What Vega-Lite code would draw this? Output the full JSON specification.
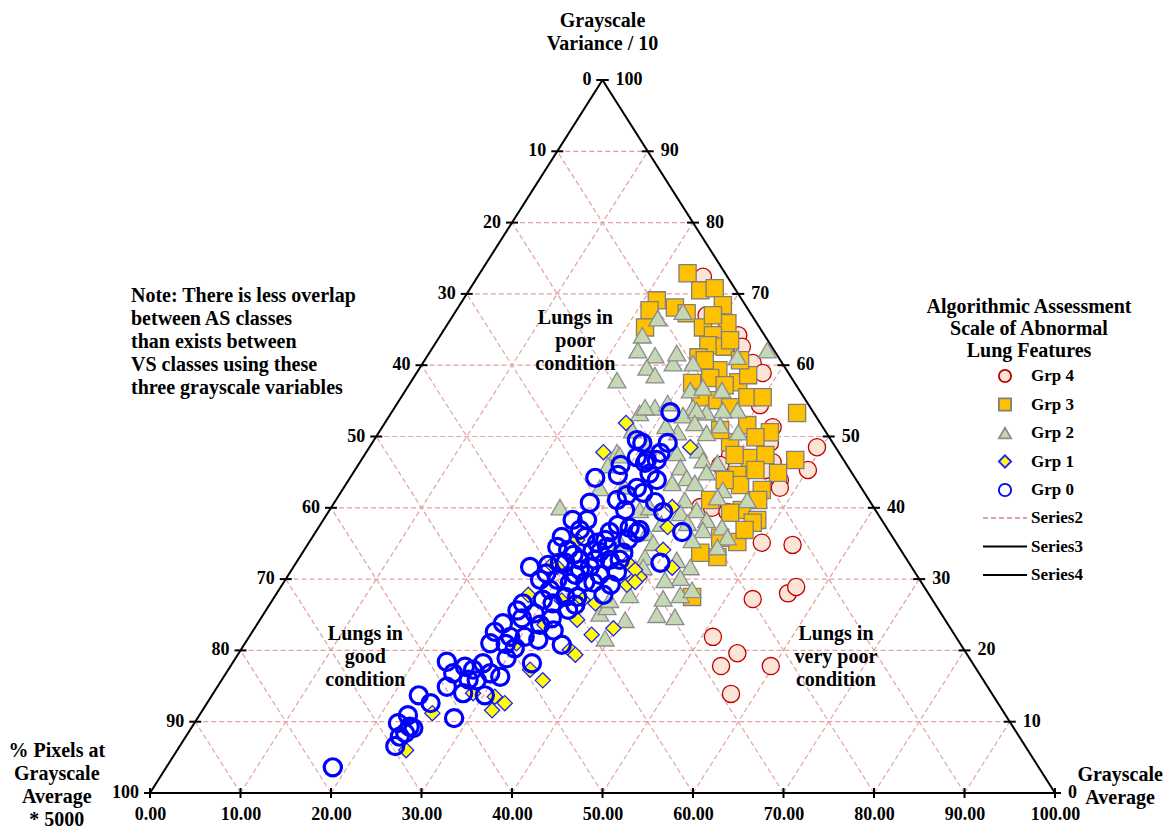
{
"$schema":"https://vega.github.io/schema/vega-lite/v6.json",
"autosize":{"type":"none"},
"padding":{"left":150,"top":80,"right":109,"bottom":36},
"width":905,"height":713,
"background":"white",
"config":{"view":{"stroke":null},"font":"Liberation Serif",
 "legend":{"orient":"none","direction":"vertical","columns":1,
    "titleFont":"Liberation Serif","titleFontSize":20,"titleFontWeight":"bold","titleColor":"black","titleLineHeight":22,"titleAlign":"center","titleAnchor":"middle","titlePadding":4,"titleLimit":400,
    "labelFont":"Liberation Serif","labelFontSize":17,"labelFontWeight":"bold","labelColor":"black","labelLimit":200,
    "clipHeight":22,"rowPadding":6.5}},
"datasets":{
"lines":[
{"x":5,"y":10,"x2":95,"y2":10,"s":"Series2"},{"x":10,"y":20,"x2":90,"y2":20,"s":"Series2"},{"x":15,"y":30,"x2":85,"y2":30,"s":"Series2"},{"x":20,"y":40,"x2":80,"y2":40,"s":"Series2"},{"x":25,"y":50,"x2":75,"y2":50,"s":"Series2"},{"x":30,"y":60,"x2":70,"y2":60,"s":"Series2"},{"x":35,"y":70,"x2":65,"y2":70,"s":"Series2"},{"x":40,"y":80,"x2":60,"y2":80,"s":"Series2"},{"x":45,"y":90,"x2":55,"y2":90,"s":"Series2"},
{"x":10,"y":0,"x2":55,"y2":90,"s":"Series2"},{"x":20,"y":0,"x2":60,"y2":80,"s":"Series2"},{"x":30,"y":0,"x2":65,"y2":70,"s":"Series2"},{"x":40,"y":0,"x2":70,"y2":60,"s":"Series2"},{"x":50,"y":0,"x2":75,"y2":50,"s":"Series2"},{"x":60,"y":0,"x2":80,"y2":40,"s":"Series2"},{"x":70,"y":0,"x2":85,"y2":30,"s":"Series2"},{"x":80,"y":0,"x2":90,"y2":20,"s":"Series2"},{"x":90,"y":0,"x2":95,"y2":10,"s":"Series2"},
{"x":10,"y":0,"x2":5,"y2":10,"s":"Series2"},{"x":20,"y":0,"x2":10,"y2":20,"s":"Series2"},{"x":30,"y":0,"x2":15,"y2":30,"s":"Series2"},{"x":40,"y":0,"x2":20,"y2":40,"s":"Series2"},{"x":50,"y":0,"x2":25,"y2":50,"s":"Series2"},{"x":60,"y":0,"x2":30,"y2":60,"s":"Series2"},{"x":70,"y":0,"x2":35,"y2":70,"s":"Series2"},{"x":80,"y":0,"x2":40,"y2":80,"s":"Series2"},{"x":90,"y":0,"x2":45,"y2":90,"s":"Series2"},
{"x":0,"y":0,"x2":50,"y2":100,"s":"Series3"},{"x":0,"y":0,"x2":100,"y2":0,"s":"Series3"},{"x":50,"y":100,"x2":100,"y2":0,"s":"Series4"}
],
"leftLab":[{"x":50,"y":100,"t":"0"},{"x":45,"y":90,"t":"10"},{"x":40,"y":80,"t":"20"},{"x":35,"y":70,"t":"30"},{"x":30,"y":60,"t":"40"},{"x":25,"y":50,"t":"50"},{"x":20,"y":40,"t":"60"},{"x":15,"y":30,"t":"70"},{"x":10,"y":20,"t":"80"},{"x":5,"y":10,"t":"90"},{"x":0,"y":0,"t":"100"}],
"rightLab":[{"x":50,"y":100,"t":"100"},{"x":55,"y":90,"t":"90"},{"x":60,"y":80,"t":"80"},{"x":65,"y":70,"t":"70"},{"x":70,"y":60,"t":"60"},{"x":75,"y":50,"t":"50"},{"x":80,"y":40,"t":"40"},{"x":85,"y":30,"t":"30"},{"x":90,"y":20,"t":"20"},{"x":95,"y":10,"t":"10"},{"x":100,"y":0,"t":"0"}],
"bottomTicks":[{"x":0,"y":0},{"x":10,"y":0},{"x":20,"y":0},{"x":30,"y":0},{"x":40,"y":0},{"x":50,"y":0},{"x":60,"y":0},{"x":70,"y":0},{"x":80,"y":0},{"x":90,"y":0},{"x":100,"y":0}],
"centerText":[
{"x":50,"y":109.7,"t":"Grayscale\nVariance / 10"},
{"x":47.0,"y":68.0,"t":"Lungs in\npoor\ncondition"},
{"x":23.8,"y":23.7,"t":"Lungs in\ngood\ncondition"},
{"x":75.8,"y":23.7,"t":"Lungs in\nvery poor\ncondition"},
{"x":-10.3,"y":7.3,"t":"% Pixels at\nGrayscale\nAverage\n* 5000"},
{"x":107.2,"y":3.9,"t":"Grayscale\nAverage"}
],
"leftText":[{"x":-2.1,"y":71.1,"t":"Note: There is less overlap\nbetween AS classes\nthan exists between\nVS classes using these\nthree grayscale variables"}],
"pts":[
{"x":61.1,"y":72.4,"g":"Grp 4"},{"x":61.5,"y":67.0,"g":"Grp 4"},{"x":65.0,"y":64.2,"g":"Grp 4"},{"x":65.4,"y":62.6,"g":"Grp 4"},{"x":66.6,"y":60.3,"g":"Grp 4"},{"x":67.7,"y":58.9,"g":"Grp 4"},{"x":67.4,"y":54.4,"g":"Grp 4"},{"x":68.8,"y":51.3,"g":"Grp 4"},{"x":73.7,"y":48.5,"g":"Grp 4"},{"x":72.7,"y":45.3,"g":"Grp 4"},{"x":69.6,"y":43.9,"g":"Grp 4"},{"x":68.8,"y":46.4,"g":"Grp 4"},{"x":64.1,"y":47.4,"g":"Grp 4"},{"x":63.0,"y":46.0,"g":"Grp 4"},{"x":68.0,"y":45.3,"g":"Grp 4"},{"x":69.6,"y":42.8,"g":"Grp 4"},{"x":60.8,"y":40.1,"g":"Grp 4"},{"x":62.1,"y":40.0,"g":"Grp 4"},{"x":63.8,"y":39.4,"g":"Grp 4"},{"x":67.6,"y":35.1,"g":"Grp 4"},{"x":71.0,"y":34.8,"g":"Grp 4"},{"x":68.5,"y":49.1,"g":"Grp 4"},{"x":70.5,"y":28.0,"g":"Grp 4"},{"x":71.4,"y":28.9,"g":"Grp 4"},{"x":66.6,"y":27.2,"g":"Grp 4"},{"x":62.2,"y":21.9,"g":"Grp 4"},{"x":64.9,"y":19.6,"g":"Grp 4"},{"x":63.1,"y":17.8,"g":"Grp 4"},{"x":68.6,"y":17.8,"g":"Grp 4"},{"x":64.2,"y":13.9,"g":"Grp 4"},
{"x":56.0,"y":69.1,"g":"Grp 3"},{"x":55.2,"y":67.7,"g":"Grp 3"},{"x":54.7,"y":65.3,"g":"Grp 3"},{"x":58.0,"y":68.1,"g":"Grp 3"},{"x":59.4,"y":72.9,"g":"Grp 3"},{"x":60.8,"y":70.5,"g":"Grp 3"},{"x":62.4,"y":70.8,"g":"Grp 3"},{"x":63.3,"y":68.4,"g":"Grp 3"},{"x":59.3,"y":67.3,"g":"Grp 3"},{"x":61.1,"y":65.3,"g":"Grp 3"},{"x":63.8,"y":65.9,"g":"Grp 3"},{"x":62.2,"y":64.2,"g":"Grp 3"},{"x":61.7,"y":62.8,"g":"Grp 3"},{"x":63.5,"y":62.6,"g":"Grp 3"},{"x":60.6,"y":61.1,"g":"Grp 3"},{"x":62.8,"y":59.3,"g":"Grp 3"},{"x":65.0,"y":57.6,"g":"Grp 3"},{"x":66.1,"y":58.6,"g":"Grp 3"},{"x":61.9,"y":58.2,"g":"Grp 3"},{"x":59.9,"y":57.5,"g":"Grp 3"},{"x":60.8,"y":55.5,"g":"Grp 3"},{"x":62.7,"y":55.1,"g":"Grp 3"},{"x":66.0,"y":55.5,"g":"Grp 3"},{"x":67.7,"y":55.5,"g":"Grp 3"},{"x":71.5,"y":53.3,"g":"Grp 3"},{"x":64.1,"y":54.1,"g":"Grp 3"},{"x":66.0,"y":51.6,"g":"Grp 3"},{"x":68.5,"y":50.6,"g":"Grp 3"},{"x":66.9,"y":49.9,"g":"Grp 3"},{"x":64.1,"y":49.2,"g":"Grp 3"},{"x":66.3,"y":47.0,"g":"Grp 3"},{"x":71.3,"y":46.7,"g":"Grp 3"},{"x":69.4,"y":44.9,"g":"Grp 3"},{"x":64.9,"y":44.6,"g":"Grp 3"},{"x":65.2,"y":43.2,"g":"Grp 3"},{"x":67.6,"y":42.5,"g":"Grp 3"},{"x":67.2,"y":41.1,"g":"Grp 3"},{"x":65.4,"y":39.7,"g":"Grp 3"},{"x":67.1,"y":38.3,"g":"Grp 3"},{"x":64.1,"y":39.3,"g":"Grp 3"},{"x":62.7,"y":33.1,"g":"Grp 3"},{"x":60.8,"y":33.7,"g":"Grp 3"},{"x":64.9,"y":35.2,"g":"Grp 3"},{"x":63.0,"y":35.8,"g":"Grp 3"},{"x":59.9,"y":27.5,"g":"Grp 3"},{"x":66.6,"y":37.9,"g":"Grp 3"},{"x":63.0,"y":50.9,"g":"Grp 3"},{"x":64.6,"y":47.4,"g":"Grp 3"},{"x":68.0,"y":47.4,"g":"Grp 3"},{"x":66.9,"y":45.3,"g":"Grp 3"},{"x":63.5,"y":43.9,"g":"Grp 3"},{"x":61.9,"y":41.1,"g":"Grp 3"},{"x":65.7,"y":36.9,"g":"Grp 3"},{"x":62.2,"y":67.0,"g":"Grp 3"},{"x":64.1,"y":63.5,"g":"Grp 3"},{"x":65.2,"y":60.7,"g":"Grp 3"},{"x":63.5,"y":57.2,"g":"Grp 3"},{"x":61.3,"y":60.7,"g":"Grp 3"},
{"x":56.1,"y":66.6,"g":"Grp 2"},{"x":54.4,"y":64.2,"g":"Grp 2"},{"x":53.9,"y":62.1,"g":"Grp 2"},{"x":55.8,"y":61.4,"g":"Grp 2"},{"x":54.9,"y":59.7,"g":"Grp 2"},{"x":55.8,"y":58.6,"g":"Grp 2"},{"x":57.8,"y":60.3,"g":"Grp 2"},{"x":58.2,"y":61.7,"g":"Grp 2"},{"x":51.6,"y":57.9,"g":"Grp 2"},{"x":55.8,"y":54.1,"g":"Grp 2"},{"x":54.1,"y":53.3,"g":"Grp 2"},{"x":57.2,"y":54.7,"g":"Grp 2"},{"x":68.2,"y":62.1,"g":"Grp 2"},{"x":64.9,"y":61.2,"g":"Grp 2"},{"x":58.9,"y":67.5,"g":"Grp 2"},{"x":60.0,"y":60.3,"g":"Grp 2"},{"x":59.7,"y":56.5,"g":"Grp 2"},{"x":61.1,"y":56.9,"g":"Grp 2"},{"x":63.2,"y":56.5,"g":"Grp 2"},{"x":64.9,"y":53.7,"g":"Grp 2"},{"x":61.5,"y":53.4,"g":"Grp 2"},{"x":60.0,"y":54.1,"g":"Grp 2"},{"x":51.6,"y":47.8,"g":"Grp 2"},{"x":50.6,"y":46.0,"g":"Grp 2"},{"x":45.3,"y":40.1,"g":"Grp 2"},{"x":49.7,"y":42.8,"g":"Grp 2"},{"x":54.1,"y":39.7,"g":"Grp 2"},{"x":54.7,"y":54.1,"g":"Grp 2"},{"x":58.9,"y":53.0,"g":"Grp 2"},{"x":60.4,"y":53.7,"g":"Grp 2"},{"x":63.3,"y":53.7,"g":"Grp 2"},{"x":60.2,"y":51.9,"g":"Grp 2"},{"x":58.3,"y":50.6,"g":"Grp 2"},{"x":61.5,"y":50.5,"g":"Grp 2"},{"x":63.0,"y":51.6,"g":"Grp 2"},{"x":65.0,"y":50.6,"g":"Grp 2"},{"x":55.0,"y":48.5,"g":"Grp 2"},{"x":58.2,"y":47.7,"g":"Grp 2"},{"x":60.6,"y":48.1,"g":"Grp 2"},{"x":61.1,"y":46.7,"g":"Grp 2"},{"x":62.7,"y":46.3,"g":"Grp 2"},{"x":58.6,"y":45.7,"g":"Grp 2"},{"x":61.5,"y":45.0,"g":"Grp 2"},{"x":59.3,"y":44.2,"g":"Grp 2"},{"x":57.7,"y":43.5,"g":"Grp 2"},{"x":60.2,"y":43.5,"g":"Grp 2"},{"x":63.3,"y":42.5,"g":"Grp 2"},{"x":62.7,"y":41.5,"g":"Grp 2"},{"x":66.0,"y":41.1,"g":"Grp 2"},{"x":55.2,"y":40.1,"g":"Grp 2"},{"x":59.1,"y":41.1,"g":"Grp 2"},{"x":58.6,"y":39.3,"g":"Grp 2"},{"x":60.4,"y":39.7,"g":"Grp 2"},{"x":61.5,"y":38.3,"g":"Grp 2"},{"x":63.2,"y":37.3,"g":"Grp 2"},{"x":59.4,"y":37.9,"g":"Grp 2"},{"x":61.1,"y":36.9,"g":"Grp 2"},{"x":63.8,"y":35.9,"g":"Grp 2"},{"x":59.9,"y":35.5,"g":"Grp 2"},{"x":62.7,"y":34.5,"g":"Grp 2"},{"x":54.9,"y":36.5,"g":"Grp 2"},{"x":55.6,"y":35.1,"g":"Grp 2"},{"x":58.2,"y":32.7,"g":"Grp 2"},{"x":59.7,"y":31.7,"g":"Grp 2"},{"x":54.7,"y":33.1,"g":"Grp 2"},{"x":49.7,"y":25.2,"g":"Grp 2"},{"x":50.5,"y":26.1,"g":"Grp 2"},{"x":52.5,"y":24.3,"g":"Grp 2"},{"x":50.3,"y":21.7,"g":"Grp 2"},{"x":54.5,"y":31.7,"g":"Grp 2"},{"x":56.0,"y":25.0,"g":"Grp 2"},{"x":58.0,"y":24.7,"g":"Grp 2"},{"x":56.7,"y":27.3,"g":"Grp 2"},{"x":58.6,"y":27.8,"g":"Grp 2"},{"x":59.9,"y":28.5,"g":"Grp 2"},{"x":58.6,"y":30.2,"g":"Grp 2"},{"x":56.9,"y":29.9,"g":"Grp 2"},{"x":53.3,"y":50.9,"g":"Grp 2"},{"x":51.9,"y":47.4,"g":"Grp 2"},{"x":50.8,"y":27.1,"g":"Grp 2"},{"x":53.0,"y":27.8,"g":"Grp 2"},{"x":52.4,"y":43.0,"g":"Grp 2"},{"x":56.5,"y":37.8,"g":"Grp 2"},{"x":57.0,"y":51.5,"g":"Grp 2"},{"x":52.0,"y":35.0,"g":"Grp 2"},
{"x":28.3,"y":6.0,"g":"Grp 1"},{"x":31.2,"y":11.2,"g":"Grp 1"},{"x":37.8,"y":11.6,"g":"Grp 1"},{"x":39.2,"y":12.6,"g":"Grp 1"},{"x":38.1,"y":13.5,"g":"Grp 1"},{"x":35.7,"y":14.0,"g":"Grp 1"},{"x":43.4,"y":15.8,"g":"Grp 1"},{"x":42.0,"y":17.3,"g":"Grp 1"},{"x":46.4,"y":20.1,"g":"Grp 1"},{"x":47.0,"y":19.4,"g":"Grp 1"},{"x":48.8,"y":22.2,"g":"Grp 1"},{"x":51.2,"y":23.1,"g":"Grp 1"},{"x":47.2,"y":24.3,"g":"Grp 1"},{"x":47.8,"y":27.1,"g":"Grp 1"},{"x":49.2,"y":26.6,"g":"Grp 1"},{"x":52.7,"y":29.2,"g":"Grp 1"},{"x":53.4,"y":29.9,"g":"Grp 1"},{"x":54.1,"y":30.3,"g":"Grp 1"},{"x":53.0,"y":32.0,"g":"Grp 1"},{"x":44.4,"y":32.0,"g":"Grp 1"},{"x":52.6,"y":51.9,"g":"Grp 1"},{"x":50.1,"y":47.8,"g":"Grp 1"},{"x":47.2,"y":35.5,"g":"Grp 1"},{"x":45.0,"y":31.7,"g":"Grp 1"},{"x":52.8,"y":32.3,"g":"Grp 1"},{"x":53.6,"y":31.3,"g":"Grp 1"},{"x":59.7,"y":48.5,"g":"Grp 1"},{"x":57.7,"y":40.1,"g":"Grp 1"},{"x":57.2,"y":37.3,"g":"Grp 1"},{"x":56.7,"y":34.1,"g":"Grp 1"},{"x":57.7,"y":31.6,"g":"Grp 1"},{"x":53.6,"y":29.6,"g":"Grp 1"},{"x":41.8,"y":27.8,"g":"Grp 1"},{"x":43.6,"y":23.6,"g":"Grp 1"},{"x":40.5,"y":21.0,"g":"Grp 1"},{"x":45.5,"y":27.0,"g":"Grp 1"},
{"x":20.2,"y":3.6,"g":"Grp 0"},{"x":27.1,"y":6.6,"g":"Grp 0"},{"x":27.6,"y":7.9,"g":"Grp 0"},{"x":27.4,"y":9.8,"g":"Grp 0"},{"x":28.5,"y":10.9,"g":"Grp 0"},{"x":28.7,"y":9.3,"g":"Grp 0"},{"x":28.2,"y":8.4,"g":"Grp 0"},{"x":29.1,"y":9.1,"g":"Grp 0"},{"x":29.7,"y":13.7,"g":"Grp 0"},{"x":33.6,"y":10.5,"g":"Grp 0"},{"x":32.8,"y":18.4,"g":"Grp 0"},{"x":33.5,"y":16.8,"g":"Grp 0"},{"x":34.8,"y":17.7,"g":"Grp 0"},{"x":32.8,"y":14.9,"g":"Grp 0"},{"x":34.6,"y":14.0,"g":"Grp 0"},{"x":35.7,"y":17.3,"g":"Grp 0"},{"x":36.1,"y":15.8,"g":"Grp 0"},{"x":42.0,"y":31.7,"g":"Grp 0"},{"x":44.0,"y":32.0,"g":"Grp 0"},{"x":45.9,"y":32.3,"g":"Grp 0"},{"x":47.5,"y":31.3,"g":"Grp 0"},{"x":45.0,"y":29.9,"g":"Grp 0"},{"x":46.4,"y":29.5,"g":"Grp 0"},{"x":48.1,"y":29.6,"g":"Grp 0"},{"x":49.0,"y":29.5,"g":"Grp 0"},{"x":50.1,"y":27.8,"g":"Grp 0"},{"x":44.2,"y":28.5,"g":"Grp 0"},{"x":45.9,"y":27.5,"g":"Grp 0"},{"x":47.2,"y":27.5,"g":"Grp 0"},{"x":46.2,"y":25.7,"g":"Grp 0"},{"x":44.5,"y":26.6,"g":"Grp 0"},{"x":43.4,"y":27.1,"g":"Grp 0"},{"x":41.2,"y":26.6,"g":"Grp 0"},{"x":42.5,"y":25.2,"g":"Grp 0"},{"x":44.4,"y":24.5,"g":"Grp 0"},{"x":41.1,"y":24.5,"g":"Grp 0"},{"x":39.0,"y":23.8,"g":"Grp 0"},{"x":38.1,"y":22.6,"g":"Grp 0"},{"x":39.8,"y":21.9,"g":"Grp 0"},{"x":41.4,"y":21.9,"g":"Grp 0"},{"x":42.9,"y":21.5,"g":"Grp 0"},{"x":45.5,"y":20.8,"g":"Grp 0"},{"x":42.2,"y":18.2,"g":"Grp 0"},{"x":39.4,"y":18.9,"g":"Grp 0"},{"x":37.6,"y":21.0,"g":"Grp 0"},{"x":36.8,"y":18.2,"g":"Grp 0"},{"x":37.6,"y":16.8,"g":"Grp 0"},{"x":38.7,"y":16.3,"g":"Grp 0"},{"x":51.6,"y":31.0,"g":"Grp 0"},{"x":53.8,"y":49.5,"g":"Grp 0"},{"x":53.8,"y":47.1,"g":"Grp 0"},{"x":54.7,"y":46.3,"g":"Grp 0"},{"x":51.7,"y":44.6,"g":"Grp 0"},{"x":49.2,"y":44.2,"g":"Grp 0"},{"x":48.6,"y":40.7,"g":"Grp 0"},{"x":53.8,"y":42.8,"g":"Grp 0"},{"x":54.5,"y":42.1,"g":"Grp 0"},{"x":51.6,"y":41.1,"g":"Grp 0"},{"x":52.5,"y":39.7,"g":"Grp 0"},{"x":51.7,"y":37.6,"g":"Grp 0"},{"x":53.0,"y":37.2,"g":"Grp 0"},{"x":53.8,"y":36.5,"g":"Grp 0"},{"x":50.8,"y":36.6,"g":"Grp 0"},{"x":46.7,"y":38.3,"g":"Grp 0"},{"x":47.5,"y":36.9,"g":"Grp 0"},{"x":45.5,"y":35.9,"g":"Grp 0"},{"x":45.0,"y":34.5,"g":"Grp 0"},{"x":46.2,"y":34.1,"g":"Grp 0"},{"x":48.1,"y":35.9,"g":"Grp 0"},{"x":49.4,"y":35.1,"g":"Grp 0"},{"x":49.7,"y":33.8,"g":"Grp 0"},{"x":50.5,"y":34.5,"g":"Grp 0"},{"x":47.5,"y":32.7,"g":"Grp 0"},{"x":45.3,"y":32.3,"g":"Grp 0"},{"x":50.8,"y":32.7,"g":"Grp 0"},{"x":52.3,"y":33.7,"g":"Grp 0"},{"x":48.6,"y":31.7,"g":"Grp 0"},{"x":57.5,"y":53.4,"g":"Grp 0"},{"x":57.2,"y":49.1,"g":"Grp 0"},{"x":56.4,"y":47.7,"g":"Grp 0"},{"x":56.0,"y":46.7,"g":"Grp 0"},{"x":54.9,"y":46.7,"g":"Grp 0"},{"x":56.0,"y":43.9,"g":"Grp 0"},{"x":55.8,"y":40.8,"g":"Grp 0"},{"x":56.7,"y":39.4,"g":"Grp 0"},{"x":58.8,"y":36.6,"g":"Grp 0"},{"x":56.4,"y":32.3,"g":"Grp 0"},{"x":54.4,"y":49.1,"g":"Grp 0"},{"x":43.1,"y":29.9,"g":"Grp 0"},{"x":47.0,"y":30.6,"g":"Grp 0"},{"x":49.2,"y":32.7,"g":"Grp 0"},{"x":50.3,"y":35.5,"g":"Grp 0"},{"x":52.8,"y":35.5,"g":"Grp 0"},{"x":54.1,"y":36.9,"g":"Grp 0"},{"x":51.9,"y":32.7,"g":"Grp 0"},{"x":40.3,"y":20.3,"g":"Grp 0"},{"x":37.0,"y":13.7,"g":"Grp 0"},{"x":43.1,"y":23.6,"g":"Grp 0"},{"x":47.0,"y":26.4,"g":"Grp 0"},{"x":49.7,"y":30.6,"g":"Grp 0"},{"x":50.9,"y":29.2,"g":"Grp 0"},{"x":48.3,"y":38.3,"g":"Grp 0"},{"x":52.7,"y":41.8,"g":"Grp 0"},{"x":40.6,"y":25.6,"g":"Grp 0"},{"x":43.8,"y":30.8,"g":"Grp 0"},{"x":46.8,"y":33.4,"g":"Grp 0"},{"x":48.9,"y":34.0,"g":"Grp 0"},{"x":39.3,"y":20.9,"g":"Grp 0"},{"x":35.2,"y":15.9,"g":"Grp 0"},{"x":31.0,"y":12.6,"g":"Grp 0"},{"x":44.6,"y":22.8,"g":"Grp 0"},{"x":52.0,"y":46.0,"g":"Grp 0"},{"x":55.2,"y":44.8,"g":"Grp 0"}
]
},
"encoding":{
"x":{"field":"x","type":"quantitative","scale":{"domain":[0,100],"nice":false,"zero":false},
 "axis":{"values":[0,10,20,30,40,50,60,70,80,90,100],"format":".2f","domain":false,"ticks":false,"grid":false,"title":null,"labelFont":"Liberation Serif","labelFontSize":18,"labelFontWeight":"bold","labelColor":"black","labelPadding":12,"labelFlush":false,"labelOverlap":false}},
"y":{"field":"y","type":"quantitative","scale":{"domain":[0,100],"nice":false,"zero":false},"axis":null}
},
"layer":[
{"data":{"name":"lines"},"mark":{"type":"rule"},
 "encoding":{"x2":{"field":"x2"},"y2":{"field":"y2"},
  "color":{"field":"s","type":"nominal","scale":{"domain":["Series2","Series3","Series4"],"range":["#e3a0a0","#000000","#000000"]},
    "legend":{"title":null,"legendX":832,"legendY":427,"symbolType":"stroke","symbolSize":1936,"symbolStrokeWidth":1.8,"symbolOffset":0,"labelOffset":3}},
  "strokeDash":{"field":"s","type":"nominal","scale":{"domain":["Series2","Series3","Series4"],"range":[[5,3],[1,0],[1,0]]},
    "legend":{"title":null,"legendX":832,"legendY":427,"symbolType":"stroke","symbolSize":1936,"symbolStrokeWidth":1.8,"symbolOffset":0,"labelOffset":3}},
  "strokeWidth":{"condition":{"test":"datum.s==='Series2'","value":1.2},"value":2}}},
{"data":{"name":"pts"},"mark":{"type":"point","filled":true,"opacity":1},
 "encoding":{
  "shape":{"field":"g","type":"nominal","scale":{"domain":["Grp 4","Grp 3","Grp 2","Grp 1","Grp 0"],"range":["circle","square","triangle-up","diamond","circle"]},
   "legend":{"title":["Algorithmic Assessment","Scale of Abnormal","Lung Features"],"legendX":776,"legendY":217,"symbolSize":150,"symbolStrokeWidth":1.8,"symbolOffset":11.5,"labelOffset":17.5}},
  "fill":{"field":"g","type":"nominal","scale":{"domain":["Grp 4","Grp 3","Grp 2","Grp 1","Grp 0"],"range":["#fce4d6","#ffc000","#c6d7b4","#ffff00","transparent"]},
   "legend":{"title":["Algorithmic Assessment","Scale of Abnormal","Lung Features"],"legendX":776,"legendY":217,"symbolSize":150,"symbolStrokeWidth":1.8,"symbolOffset":11.5,"labelOffset":17.5}},
  "stroke":{"field":"g","type":"nominal","scale":{"domain":["Grp 4","Grp 3","Grp 2","Grp 1","Grp 0"],"range":["#c00000","#7f7f7f","#8c8c8c","#2020ff","#0000ff"]},
   "legend":{"title":["Algorithmic Assessment","Scale of Abnormal","Lung Features"],"legendX":776,"legendY":217,"symbolSize":150,"symbolStrokeWidth":1.8,"symbolOffset":11.5,"labelOffset":17.5}},
  "size":{"condition":[{"test":"datum.g==='Grp 1'","value":230},{"test":"datum.g==='Grp 2'","value":320}],"value":295},
  "strokeWidth":{"condition":{"test":"datum.g==='Grp 0'","value":3.2},"value":1.3}
 }},
{"data":{"name":"leftLab"},"mark":{"type":"tick","orient":"horizontal","size":12,"thickness":2,"color":"black","opacity":1}},
{"data":{"name":"rightLab"},"mark":{"type":"tick","orient":"horizontal","size":12,"thickness":2,"color":"black","opacity":1}},
{"data":{"name":"bottomTicks"},"mark":{"type":"tick","orient":"vertical","size":10,"thickness":2,"color":"black","opacity":1}},
{"data":{"name":"leftLab"},"mark":{"type":"text","align":"right","baseline":"middle","dx":-11,"font":"Liberation Serif","fontSize":18,"fontWeight":"bold","color":"black"},
 "encoding":{"text":{"field":"t"}}},
{"data":{"name":"rightLab"},"mark":{"type":"text","align":"left","baseline":"middle","dx":13,"font":"Liberation Serif","fontSize":18,"fontWeight":"bold","color":"black"},
 "encoding":{"text":{"field":"t"}}},
{"data":{"name":"centerText"},"mark":{"type":"text","align":"center","baseline":"top","lineBreak":"\n","lineHeight":23,"font":"Liberation Serif","fontSize":20,"fontWeight":"bold","color":"black"},
 "encoding":{"text":{"field":"t"}}},
{"data":{"name":"leftText"},"mark":{"type":"text","align":"left","baseline":"top","lineBreak":"\n","lineHeight":23,"font":"Liberation Serif","fontSize":20,"fontWeight":"bold","color":"black"},
 "encoding":{"text":{"field":"t"}}}
]
}
